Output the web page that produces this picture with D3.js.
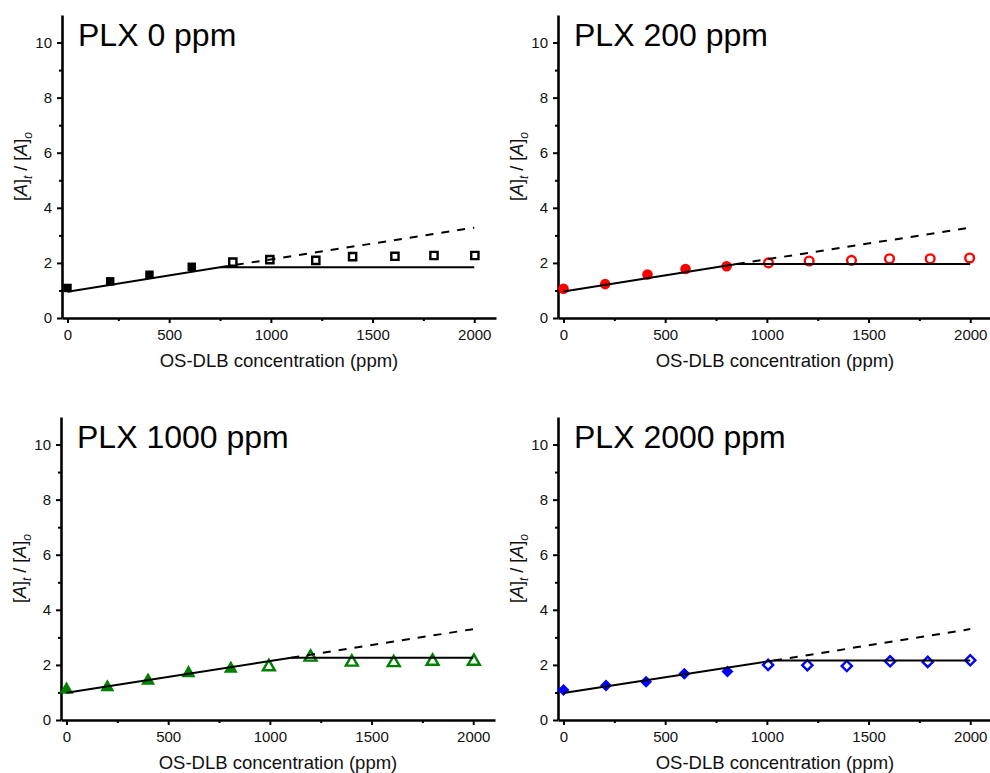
<!DOCTYPE html>
<html>
<head>
<meta charset="utf-8">
<script src="https://cdn.jsdelivr.net/npm/d3@7"></script>
<style>
  body { margin: 0; background: #fff; }
  svg { font-family: "Liberation Sans", Arial, sans-serif; }
</style>
</head>
<body>
<svg width="990" height="773"></svg>
<script>
// Tick values shared by all four panels
const xTicks = [0, 500, 1000, 1500, 2000];
const xMinor = [250, 750, 1250, 1750];
const yTicks = [0, 2, 4, 6, 8, 10];
const yMinor = [1, 3, 5, 7, 9];

// PLX 0 ppm
const plx0FilledX = [0, 210, 403, 611];
const plx0FilledY = [1.09, 1.33, 1.57, 1.86];
const plx0OpenX = [813, 995, 1221, 1402, 1610, 1802, 2003];
const plx0OpenY = [2.03, 2.12, 2.09, 2.23, 2.24, 2.27, 2.27];

// PLX 200 ppm
const plx200FilledX = [0, 205, 413, 600, 802];
const plx200FilledY = [1.06, 1.23, 1.58, 1.78, 1.88];
const plx200OpenX = [1008, 1208, 1416, 1603, 1803, 1997];
const plx200OpenY = [2.0, 2.07, 2.09, 2.15, 2.15, 2.18];

// PLX 1000 ppm
const plx1000FilledX = [0, 201, 401, 600, 808];
const plx1000FilledY = [1.1, 1.19, 1.43, 1.7, 1.86];
const plx1000OpenX = [995, 1200, 1403, 1609, 1800, 2003];
const plx1000OpenY = [1.93, 2.28, 2.1, 2.08, 2.13, 2.13];

// PLX 2000 ppm
const plx2000FilledX = [0, 209, 406, 594, 806];
const plx2000FilledY = [1.09, 1.25, 1.39, 1.68, 1.76];
const plx2000OpenX = [1006, 1199, 1393, 1606, 1791, 2000];
const plx2000OpenY = [2.0, 1.99, 1.96, 2.13, 2.11, 2.17];

// fitted lines: start value, break point, plateau, dashed end at 2000
const fitStart = [0.95, 0.96, 0.99, 0.98];
const fitBreakX = [750, 852, 1105, 1035];
const fitPlateau = [1.84, 1.96, 2.26, 2.16];
const fitDashEnd = [3.28, 3.28, 3.3, 3.3];

const titles = ["PLX 0 ppm", "PLX 200 ppm", "PLX 1000 ppm", "PLX 2000 ppm"];
const colors = ["#000000", "#ff0000", "#008000", "#0000ff"];
const symbols = [d3.symbolSquare, d3.symbolCircle, d3.symbolTriangle, d3.symbolSquare];
const rotations = [0, 0, 0, 45];

const filledX = [plx0FilledX, plx200FilledX, plx1000FilledX, plx2000FilledX];
const filledY = [plx0FilledY, plx200FilledY, plx1000FilledY, plx2000FilledY];
const openX = [plx0OpenX, plx200OpenX, plx1000OpenX, plx2000OpenX];
const openY = [plx0OpenY, plx200OpenY, plx1000OpenY, plx2000OpenY];

const origins = [[62, 15], [558, 15], [61, 417], [558, 417]];
const w = 434, h = 303;

const svg = d3.select("svg");

const x = d3.scaleLinear().domain([-27, 2107]).range([0, w]);
const y = d3.scaleLinear().domain([0, 11]).range([h, 0]);

const filledSize = [72, 88, 85, 72];
const openSize = [52, 60, 62, 52];

titles.forEach((title, i) => {
  const g = svg.append("g")
    .attr("transform", `translate(${origins[i][0]}, ${origins[i][1]})`);

  // minor ticks
  g.append("g")
    .attr("transform", `translate(0, ${h})`)
    .call(d3.axisBottom(x).tickValues(xMinor).tickSize(3).tickFormat(""))
    .call(a => a.select(".domain").remove())
    .selectAll("line").attr("stroke-width", 2);
  g.append("g")
    .call(d3.axisLeft(y).tickValues(yMinor).tickSize(3).tickFormat(""))
    .call(a => a.select(".domain").remove())
    .selectAll("line").attr("stroke-width", 2);

  // axes
  const xa = g.append("g")
    .attr("transform", `translate(0, ${h})`)
    .call(d3.axisBottom(x).tickValues(xTicks).tickFormat(d3.format("d"))
      .tickSize(5).tickSizeOuter(0).tickPadding(6));
  const ya = g.append("g")
    .call(d3.axisLeft(y).tickValues(yTicks).tickSize(5).tickSizeOuter(0).tickPadding(5));
  [xa, ya].forEach(a => {
    a.select(".domain").attr("stroke-width", 2.6);
    a.selectAll(".tick line").attr("stroke-width", 2);
    a.selectAll(".tick text")
      .style("font-size", "15px")
      .style("font-family", "Liberation Sans, Arial, sans-serif")
      .attr("fill", "#111");
  });

  // markers
  const filled = filledX[i].map((v, k) => [v, filledY[i][k]]);
  const open = openX[i].map((v, k) => [v, openY[i][k]]);

  g.selectAll(".filled")
    .data(filled)
    .enter()
    .append("path")
    .attr("class", "filled")
    .attr("transform", d => `translate(${x(d[0])}, ${y(d[1])}) rotate(${rotations[i]})`)
    .attr("d", d3.symbol().type(symbols[i]).size(filledSize[i]))
    .attr("fill", colors[i]);

  g.selectAll(".open")
    .data(open)
    .enter()
    .append("path")
    .attr("class", "open")
    .attr("transform", d => `translate(${x(d[0])}, ${y(d[1])}) rotate(${rotations[i]})`)
    .attr("d", d3.symbol().type(symbols[i]).size(openSize[i]))
    .attr("fill", "#fff")
    .attr("stroke", colors[i])
    .attr("stroke-width", 2.4);

  // fit lines
  const line = d3.line().x(d => x(d[0])).y(d => y(d[1]));
  const breakY = fitPlateau[i];
  g.append("path")
    .attr("d", line([[0, fitStart[i]], [fitBreakX[i], breakY], [2000, fitPlateau[i]]]))
    .attr("fill", "none")
    .attr("stroke", "#000")
    .attr("stroke-width", 2);
  g.append("path")
    .attr("d", line([[fitBreakX[i], breakY], [2000, fitDashEnd[i]]]))
    .attr("fill", "none")
    .attr("stroke", "#000")
    .attr("stroke-width", 2)
    .attr("stroke-dasharray", "8,8");

  // title
  g.append("text")
    .attr("x", 16)
    .attr("y", 31)
    .style("font-size", "32px")
    .text(title);

  // x label
  g.append("text")
    .attr("x", w / 2)
    .attr("y", h + 49)
    .attr("text-anchor", "middle")
    .style("font-size", "18.5px")
    .attr("fill", "#111")
    .text("OS-DLB concentration (ppm)");

  // y label
  const yl = g.append("text")
    .attr("transform", "rotate(-90)")
    .attr("x", -h / 2)
    .attr("y", -35)
    .attr("text-anchor", "middle")
    .style("font-size", "18px")
    .attr("fill", "#111");
  yl.append("tspan").text("[");
  yl.append("tspan").style("font-style", "italic").text("A");
  yl.append("tspan").text("]");
  yl.append("tspan").attr("dy", 5).style("font-size", "12px").style("font-style", "italic").text("t");
  yl.append("tspan").attr("dy", -5).text(" / [");
  yl.append("tspan").style("font-style", "italic").text("A");
  yl.append("tspan").text("]");
  yl.append("tspan").attr("dy", 5).style("font-size", "12px").style("font-style", "italic").text("o");
});
</script>
</body>
</html>
